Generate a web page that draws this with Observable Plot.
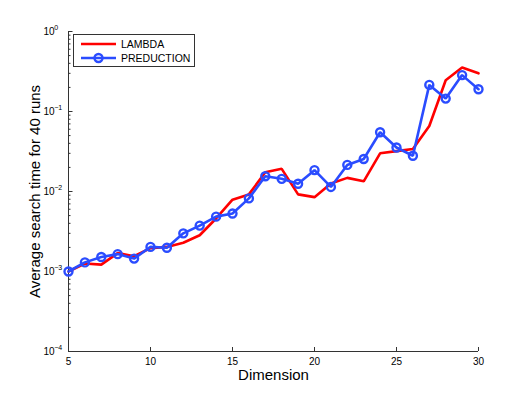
<!DOCTYPE html>
<html>
<head>
<meta charset="utf-8">
<script src="https://cdn.jsdelivr.net/npm/d3@7"></script>
<script src="https://cdn.jsdelivr.net/npm/@observablehq/plot@0.6"></script>
<style>
  body { margin: 0; background: #fff; }
  #wrap { position: relative; width: 527px; height: 396px; font-family: "Liberation Sans", Arial, sans-serif; }
  #legend { position: absolute; left: 73px; top: 34px; width: 120px; height: 31px; border: 1px solid #333; background: #fff; }
  #legend .row { position: absolute; left: 0; height: 14px; display: flex; align-items: center; }
  #legend .row span { font-size: 10.5px; color: #000; margin-left: 5px; line-height: 14px; }
</style>
</head>
<body>
<div id="wrap"><div id="chart"></div><div id="legend"></div></div>
<script>
const dims = [5,6,7,8,9,10,11,12,13,14,15,16,17,18,19,20,21,22,23,24,25,26,27,28,29,30];
const lambda = [1.0e-3,1.26e-3,1.22e-3,1.7e-3,1.55e-3,1.96e-3,2.03e-3,2.29e-3,2.84e-3,4.6e-3,7.9e-3,9.2e-3,1.74e-2,1.92e-2,9.2e-3,8.5e-3,1.26e-2,1.48e-2,1.34e-2,3.0e-2,3.2e-2,3.4e-2,6.6e-2,0.246,0.354,0.30];
const preduction = [1.0e-3,1.30e-3,1.52e-3,1.65e-3,1.45e-3,2.03e-3,1.98e-3,3.0e-3,3.75e-3,4.85e-3,5.3e-3,8.2e-3,1.55e-2,1.44e-2,1.25e-2,1.85e-2,1.14e-2,2.15e-2,2.55e-2,5.5e-2,3.55e-2,2.8e-2,0.215,0.145,0.285,0.19];
const seriesNames = ["LAMBDA", "PREDUCTION"];
const seriesColors = ["#ff0000", "#2a4cff"];
const xTicks = [5,10,15,20,25,30];
const yExps = [-4,-3,-2,-1,0];
const minorMultipliers = [2,3,4,5,6,7,8,9];
const xTitle = "Dimension";
const yTitle = "Average search time for 40 runs";

const yMajor = yExps.map(e => Math.pow(10, e));
const yMinor = yExps.slice(0, -1).flatMap(e => minorMultipliers.map(m => m * Math.pow(10, e)));

const rowsL = dims.map((d, i) => ({series: seriesNames[0], x: d, y: lambda[i]}));
const rowsP = dims.map((d, i) => ({series: seriesNames[1], x: d, y: preduction[i]}));

const axisColor = "#333";

const chart = Plot.plot({
  width: 527,
  height: 396,
  marginLeft: 68,
  marginRight: 49,
  marginTop: 31,
  marginBottom: 45,
  style: {fontFamily: "'Liberation Sans', Arial, sans-serif", fontSize: "10px", background: "#fff", color: "#000", overflow: "visible"},
  x: {domain: [5, 30], label: null},
  y: {type: "log", domain: [1e-4, 1], label: null},
  marks: [
    Plot.ruleX([xTicks[0]], {stroke: axisColor}),
    Plot.ruleY([yMajor[0]], {stroke: axisColor}),
    Plot.axisX(xTicks, {tickSize: -4, tickPadding: 10, stroke: axisColor, fill: "#000", tickFormat: d => String(d)}),
    Plot.axisY(yMinor, {tickSize: -2.5, stroke: axisColor, fill: "none"}),
    Plot.axisY(yMajor, {tickSize: -4.5, tickPadding: 18.5, stroke: axisColor, fill: "#000", tickFormat: () => "10"}),
    Plot.text(yExps, {
      y: e => Math.pow(10, e), frameAnchor: "left", dx: -14.3, dy: -4.2,
      text: e => (e < 0 ? "\u2212" + Math.abs(e) : String(e)),
      textAnchor: "start", fontSize: 7, fill: "#000"
    }),
    Plot.line(rowsL, {x: "x", y: "y", stroke: seriesColors[0], strokeWidth: 2.6, strokeLinejoin: "miter"}),
    Plot.line(rowsP, {x: "x", y: "y", stroke: seriesColors[1], strokeWidth: 2.6, strokeLinejoin: "miter"}),
    Plot.dot(rowsP, {x: "x", y: "y", r: 4, stroke: seriesColors[1], strokeWidth: 2.4, fill: "none"}),
    Plot.text([xTitle], {frameAnchor: "bottom", dy: 28, fontSize: 15, fill: "#000"}),
    Plot.text([yTitle], {frameAnchor: "left", textAnchor: "middle", rotate: -90, dx: -33, fontSize: 15, fill: "#000"})
  ]
});
document.getElementById("chart").appendChild(chart);

// Legend (MATLAB-style, inside the axes)
const legend = document.getElementById("legend");
seriesNames.forEach((name, i) => {
  const row = document.createElement("div");
  row.className = "row";
  row.style.top = (i === 0 ? 2 : 15.5) + "px";
  row.style.left = "7px";
  const svg = d3.create("svg").attr("width", 35).attr("height", 14);
  svg.append("line").attr("x1", 0).attr("x2", 35).attr("y1", 7).attr("y2", 7)
    .attr("stroke", seriesColors[i]).attr("stroke-width", 2.6);
  if (i === 1) {
    svg.append("circle").attr("cx", 17.5).attr("cy", 7).attr("r", 4)
      .attr("stroke", seriesColors[i]).attr("stroke-width", 2.4).attr("fill", "none");
  }
  row.appendChild(svg.node());
  const label = document.createElement("span");
  label.textContent = name;
  row.appendChild(label);
  legend.appendChild(row);
});
</script>
</body>
</html>
